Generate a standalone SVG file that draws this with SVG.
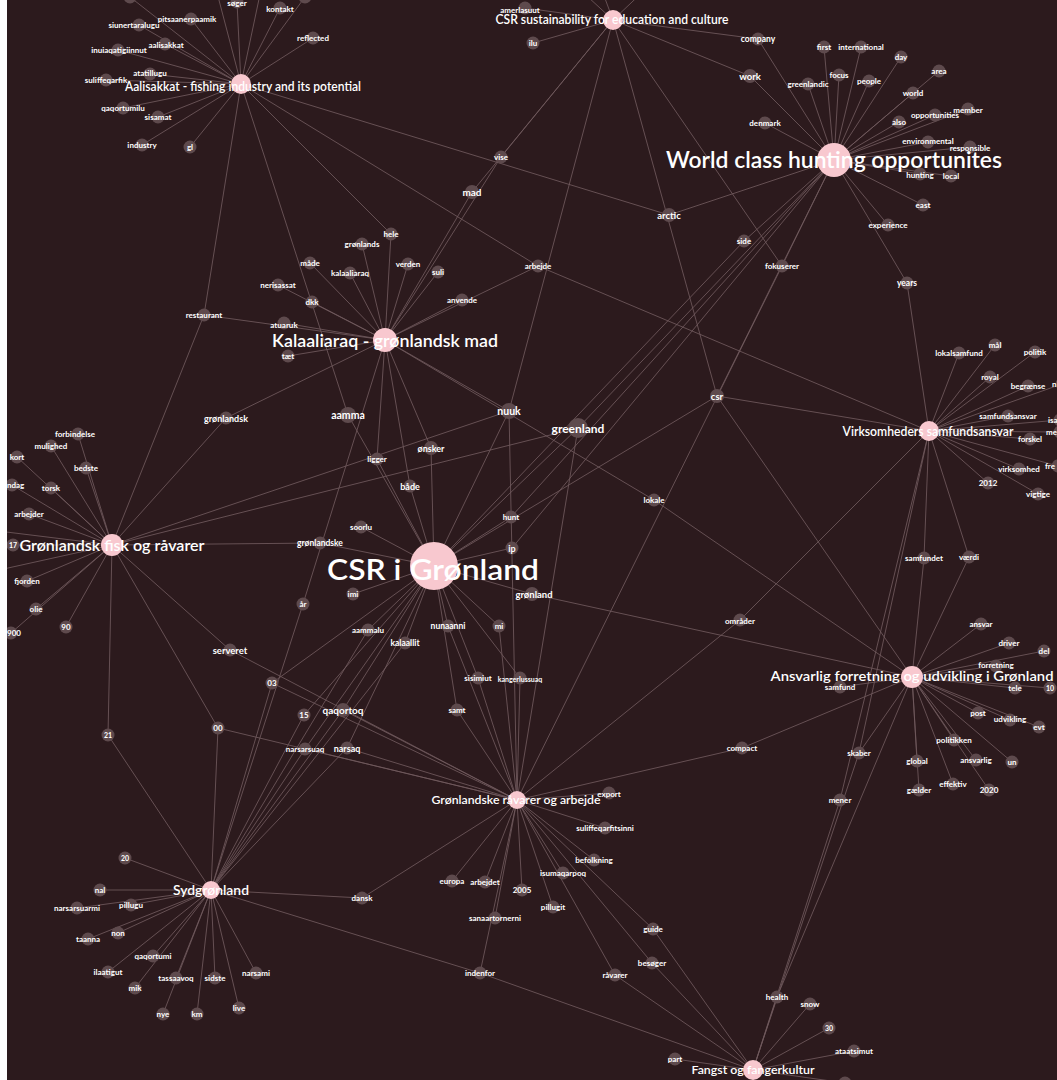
<svg xmlns="http://www.w3.org/2000/svg" width="1057" height="1080" viewBox="0 0 1057 1080">
<style>
.e line{stroke:#705a5d;stroke-width:0.85}
.n{fill:#5e4a4d}
.h{fill:#f8c8cf}
text{fill:#ffffff;font-family:Lato,"Open Sans","Liberation Sans",sans-serif;text-anchor:middle}
.w text{font-weight:700;dominant-baseline:central;font-size:8px}
.hl{font-weight:600}
.s{text-anchor:start}
</style>
<defs><clipPath id="cp"><rect x="7" y="0" width="1050" height="1080"/></clipPath></defs>
<rect x="0" y="0" width="1057" height="1080" fill="#ffffff"/>
<rect x="7" y="0" width="1050" height="1080" fill="#2c1a1d"/>
<g clip-path="url(#cp)">
<g id="connectors" class="e">
<!-- A -->
<line x1="241" y1="84" x2="237" y2="2"/><line x1="241" y1="84" x2="191" y2="19"/><line x1="241" y1="84" x2="139" y2="25"/><line x1="241" y1="84" x2="165" y2="44"/><line x1="241" y1="84" x2="118" y2="50"/><line x1="241" y1="84" x2="150" y2="74"/><line x1="241" y1="84" x2="106" y2="80"/><line x1="241" y1="84" x2="123" y2="108"/><line x1="241" y1="84" x2="158" y2="117"/><line x1="241" y1="84" x2="142" y2="145"/><line x1="241" y1="84" x2="190" y2="147"/><line x1="241" y1="84" x2="280" y2="8"/><line x1="241" y1="84" x2="313" y2="38"/><line x1="241" y1="84" x2="130" y2="-3"/><line x1="241" y1="84" x2="305" y2="-3"/><line x1="241" y1="84" x2="215" y2="-15"/><line x1="241" y1="84" x2="262" y2="-15"/><line x1="241" y1="84" x2="204" y2="315"/><line x1="241" y1="84" x2="669" y2="215"/><line x1="241" y1="84" x2="538" y2="266"/><line x1="241" y1="84" x2="391" y2="234"/><line x1="241" y1="84" x2="348" y2="415"/>
<!-- S -->
<line x1="613" y1="20" x2="525" y2="8"/><line x1="613" y1="20" x2="533" y2="43"/><line x1="613" y1="20" x2="758" y2="39"/><line x1="613" y1="20" x2="750" y2="76"/><line x1="613" y1="20" x2="501" y2="157"/><line x1="613" y1="20" x2="472" y2="192"/><line x1="613" y1="20" x2="717" y2="396"/><line x1="613" y1="20" x2="509" y2="411"/><line x1="613" y1="20" x2="782" y2="266"/><line x1="613" y1="20" x2="575" y2="-15"/><line x1="613" y1="20" x2="600" y2="-15"/><line x1="613" y1="20" x2="650" y2="-15"/>
<!-- W -->
<line x1="834" y1="160" x2="824" y2="47"/><line x1="834" y1="160" x2="861" y2="47"/><line x1="834" y1="160" x2="901" y2="57"/><line x1="834" y1="160" x2="839" y2="75"/><line x1="834" y1="160" x2="869" y2="81"/><line x1="834" y1="160" x2="808" y2="84"/><line x1="834" y1="160" x2="939" y2="71"/><line x1="834" y1="160" x2="913" y2="93"/><line x1="834" y1="160" x2="968" y2="109"/><line x1="834" y1="160" x2="935" y2="115"/><line x1="834" y1="160" x2="899" y2="122"/><line x1="834" y1="160" x2="928" y2="142"/><line x1="834" y1="160" x2="970" y2="147"/><line x1="834" y1="160" x2="920" y2="174"/><line x1="834" y1="160" x2="951" y2="176"/><line x1="834" y1="160" x2="923" y2="205"/><line x1="834" y1="160" x2="888" y2="225"/><line x1="834" y1="160" x2="758" y2="39"/><line x1="834" y1="160" x2="750" y2="76"/><line x1="834" y1="160" x2="765" y2="123"/><line x1="834" y1="160" x2="907" y2="283"/><line x1="834" y1="160" x2="669" y2="215"/><line x1="834" y1="160" x2="744" y2="241"/><line x1="834" y1="160" x2="782" y2="266"/><line x1="834" y1="160" x2="578" y2="428"/><line x1="834" y1="160" x2="717" y2="396"/><line x1="834" y1="160" x2="511" y2="517"/><line x1="834" y1="160" x2="512" y2="548"/>
<!-- K -->
<line x1="385" y1="340" x2="391" y2="234"/><line x1="385" y1="340" x2="362" y2="244"/><line x1="385" y1="340" x2="310" y2="263"/><line x1="385" y1="340" x2="350" y2="273"/><line x1="385" y1="340" x2="408" y2="264"/><line x1="385" y1="340" x2="438" y2="272"/><line x1="385" y1="340" x2="278" y2="285"/><line x1="385" y1="340" x2="312" y2="302"/><line x1="385" y1="340" x2="462" y2="300"/><line x1="385" y1="340" x2="284" y2="323"/><line x1="385" y1="340" x2="288" y2="356"/><line x1="385" y1="340" x2="472" y2="192"/><line x1="385" y1="340" x2="501" y2="157"/><line x1="385" y1="340" x2="204" y2="315"/><line x1="385" y1="340" x2="226" y2="418"/><line x1="385" y1="340" x2="377" y2="459"/><line x1="385" y1="340" x2="431" y2="448"/><line x1="385" y1="340" x2="410" y2="486"/><line x1="385" y1="340" x2="303" y2="604"/><line x1="385" y1="340" x2="509" y2="411"/><line x1="385" y1="340" x2="538" y2="266"/><line x1="385" y1="340" x2="654" y2="500"/>
<!-- V -->
<line x1="929" y1="431" x2="959" y2="353"/><line x1="929" y1="431" x2="995" y2="345"/><line x1="929" y1="431" x2="1035" y2="352"/><line x1="929" y1="431" x2="990" y2="377"/><line x1="929" y1="431" x2="1028" y2="386"/><line x1="929" y1="431" x2="1062" y2="384"/><line x1="929" y1="431" x2="1008" y2="416"/><line x1="929" y1="431" x2="1060" y2="420"/><line x1="929" y1="431" x2="1060" y2="432"/><line x1="929" y1="431" x2="1030" y2="439"/><line x1="929" y1="431" x2="1019" y2="469"/><line x1="929" y1="431" x2="1058" y2="466"/><line x1="929" y1="431" x2="988" y2="483"/><line x1="929" y1="431" x2="1038" y2="494"/><line x1="929" y1="431" x2="924" y2="558"/><line x1="929" y1="431" x2="969" y2="557"/><line x1="929" y1="431" x2="717" y2="396"/><line x1="929" y1="431" x2="538" y2="266"/><line x1="929" y1="431" x2="907" y2="283"/><line x1="929" y1="431" x2="740" y2="620"/><line x1="929" y1="431" x2="859" y2="753"/><line x1="929" y1="431" x2="840" y2="800"/>
<!-- F -->
<line x1="112" y1="545" x2="78" y2="434"/><line x1="112" y1="545" x2="51" y2="446"/><line x1="112" y1="545" x2="17" y2="457"/><line x1="112" y1="545" x2="86" y2="468"/><line x1="112" y1="545" x2="12" y2="485"/><line x1="112" y1="545" x2="51" y2="488"/><line x1="112" y1="545" x2="29" y2="514"/><line x1="112" y1="545" x2="13" y2="545"/><line x1="112" y1="545" x2="27" y2="581"/><line x1="112" y1="545" x2="36" y2="609"/><line x1="112" y1="545" x2="11" y2="633"/><line x1="112" y1="545" x2="66" y2="627"/><line x1="112" y1="545" x2="-10" y2="530"/><line x1="112" y1="545" x2="-10" y2="572"/><line x1="112" y1="545" x2="204" y2="315"/><line x1="112" y1="545" x2="226" y2="418"/><line x1="112" y1="545" x2="509" y2="411"/><line x1="112" y1="545" x2="578" y2="428"/><line x1="112" y1="545" x2="320" y2="543"/><line x1="112" y1="545" x2="230" y2="650"/><line x1="112" y1="545" x2="108" y2="735"/><line x1="112" y1="545" x2="218" y2="728"/>
<!-- C -->
<line x1="434" y1="566" x2="348" y2="415"/><line x1="434" y1="566" x2="509" y2="411"/><line x1="434" y1="566" x2="431" y2="448"/><line x1="434" y1="566" x2="377" y2="459"/><line x1="434" y1="566" x2="410" y2="486"/><line x1="434" y1="566" x2="511" y2="517"/><line x1="434" y1="566" x2="361" y2="527"/><line x1="434" y1="566" x2="320" y2="543"/><line x1="434" y1="566" x2="512" y2="548"/><line x1="434" y1="566" x2="353" y2="594"/><line x1="434" y1="566" x2="532" y2="594"/><line x1="434" y1="566" x2="448" y2="626"/><line x1="434" y1="566" x2="499" y2="626"/><line x1="434" y1="566" x2="368" y2="630"/><line x1="434" y1="566" x2="405" y2="643"/><line x1="434" y1="566" x2="272" y2="683"/><line x1="434" y1="566" x2="478" y2="678"/><line x1="434" y1="566" x2="520" y2="678"/><line x1="434" y1="566" x2="304" y2="715"/><line x1="434" y1="566" x2="343" y2="710"/><line x1="434" y1="566" x2="457" y2="710"/><line x1="434" y1="566" x2="717" y2="396"/><line x1="434" y1="566" x2="578" y2="428"/><line x1="434" y1="566" x2="744" y2="241"/><line x1="434" y1="566" x2="305" y2="749"/><line x1="434" y1="566" x2="347" y2="748"/>
<!-- R -->
<line x1="912" y1="677" x2="981" y2="624"/><line x1="912" y1="677" x2="1009" y2="643"/><line x1="912" y1="677" x2="1044" y2="651"/><line x1="912" y1="677" x2="996" y2="666"/><line x1="912" y1="677" x2="840" y2="687"/><line x1="912" y1="677" x2="1015" y2="688"/><line x1="912" y1="677" x2="1050" y2="688"/><line x1="912" y1="677" x2="978" y2="713"/><line x1="912" y1="677" x2="1010" y2="720"/><line x1="912" y1="677" x2="1039" y2="727"/><line x1="912" y1="677" x2="954" y2="740"/><line x1="912" y1="677" x2="917" y2="761"/><line x1="912" y1="677" x2="976" y2="760"/><line x1="912" y1="677" x2="1012" y2="762"/><line x1="912" y1="677" x2="953" y2="784"/><line x1="912" y1="677" x2="989" y2="790"/><line x1="912" y1="677" x2="919" y2="790"/><line x1="912" y1="677" x2="924" y2="558"/><line x1="912" y1="677" x2="969" y2="557"/><line x1="912" y1="677" x2="717" y2="396"/><line x1="912" y1="677" x2="532" y2="594"/><line x1="912" y1="677" x2="654" y2="500"/><line x1="912" y1="677" x2="742" y2="748"/><line x1="912" y1="677" x2="859" y2="753"/><line x1="912" y1="677" x2="777" y2="997"/>
<!-- G -->
<line x1="517" y1="800" x2="609" y2="793"/><line x1="517" y1="800" x2="605" y2="828"/><line x1="517" y1="800" x2="594" y2="860"/><line x1="517" y1="800" x2="563" y2="873"/><line x1="517" y1="800" x2="553" y2="907"/><line x1="517" y1="800" x2="452" y2="881"/><line x1="517" y1="800" x2="485" y2="882"/><line x1="517" y1="800" x2="522" y2="890"/><line x1="517" y1="800" x2="495" y2="918"/><line x1="517" y1="800" x2="480" y2="973"/><line x1="517" y1="800" x2="653" y2="929"/><line x1="517" y1="800" x2="652" y2="963"/><line x1="517" y1="800" x2="615" y2="975"/><line x1="517" y1="800" x2="742" y2="748"/><line x1="517" y1="800" x2="362" y2="898"/><line x1="517" y1="800" x2="218" y2="728"/><line x1="517" y1="800" x2="230" y2="650"/><line x1="517" y1="800" x2="578" y2="428"/><line x1="517" y1="800" x2="509" y2="411"/><line x1="517" y1="800" x2="782" y2="266"/><line x1="517" y1="800" x2="740" y2="620"/><line x1="517" y1="800" x2="448" y2="626"/><line x1="517" y1="800" x2="499" y2="626"/><line x1="517" y1="800" x2="457" y2="710"/><line x1="517" y1="800" x2="478" y2="678"/><line x1="517" y1="800" x2="520" y2="678"/><line x1="517" y1="800" x2="343" y2="710"/><line x1="517" y1="800" x2="305" y2="749"/><line x1="517" y1="800" x2="347" y2="748"/><line x1="517" y1="800" x2="272" y2="683"/>
<!-- Y -->
<line x1="211" y1="890" x2="125" y2="858"/><line x1="211" y1="890" x2="100" y2="890"/><line x1="211" y1="890" x2="77" y2="908"/><line x1="211" y1="890" x2="131" y2="905"/><line x1="211" y1="890" x2="88" y2="939"/><line x1="211" y1="890" x2="118" y2="933"/><line x1="211" y1="890" x2="153" y2="956"/><line x1="211" y1="890" x2="108" y2="972"/><line x1="211" y1="890" x2="176" y2="978"/><line x1="211" y1="890" x2="215" y2="978"/><line x1="211" y1="890" x2="256" y2="973"/><line x1="211" y1="890" x2="135" y2="988"/><line x1="211" y1="890" x2="163" y2="1014"/><line x1="211" y1="890" x2="197" y2="1014"/><line x1="211" y1="890" x2="239" y2="1008"/><line x1="211" y1="890" x2="108" y2="735"/><line x1="211" y1="890" x2="218" y2="728"/><line x1="211" y1="890" x2="362" y2="898"/><line x1="211" y1="890" x2="480" y2="973"/><line x1="211" y1="890" x2="303" y2="604"/><line x1="211" y1="890" x2="272" y2="683"/><line x1="211" y1="890" x2="304" y2="715"/><line x1="211" y1="890" x2="343" y2="710"/><line x1="211" y1="890" x2="305" y2="749"/><line x1="211" y1="890" x2="347" y2="748"/><line x1="211" y1="890" x2="405" y2="643"/><line x1="211" y1="890" x2="368" y2="630"/>
<!-- H -->
<line x1="753" y1="1070" x2="675" y2="1059"/><line x1="753" y1="1070" x2="810" y2="1004"/><line x1="753" y1="1070" x2="829" y2="1028"/><line x1="753" y1="1070" x2="854" y2="1051"/><line x1="753" y1="1070" x2="845" y2="1083"/><line x1="753" y1="1070" x2="777" y2="997"/><line x1="753" y1="1070" x2="653" y2="929"/><line x1="753" y1="1070" x2="652" y2="963"/><line x1="753" y1="1070" x2="615" y2="975"/><line x1="753" y1="1070" x2="480" y2="973"/><line x1="753" y1="1070" x2="859" y2="753"/><line x1="753" y1="1070" x2="840" y2="800"/>
</g>
<g class="w">
<g id="n-soger"><circle class="n" cx="237" cy="2" r="6.5"/><text x="237" y="3">søger</text></g>
<g id="n-pitsaanerpaamik"><circle class="n" cx="191" cy="19" r="6.5"/><text x="187" y="19">pitsaanerpaamik</text></g>
<g id="n-siunertaralugu"><circle class="n" cx="139" cy="25" r="6.5"/><text x="134" y="25">siunertaralugu</text></g>
<g id="n-aalisakkat"><circle class="n" cx="165" cy="44" r="6.5"/><text x="166" y="45">aalisakkat</text></g>
<g id="n-inuiaqatigiinnut"><circle class="n" cx="118" cy="50" r="6.5"/><text x="119" y="50">inuiaqatigiinnut</text></g>
<g id="n-atatillugu"><circle class="n" cx="150" cy="74" r="6.5"/><text x="150" y="73">atatillugu</text></g>
<g id="n-suliffeqarfik"><circle class="n" cx="106" cy="80" r="6.5"/><text x="106" y="80">suliffeqarfik</text></g>
<g id="n-qaqortumilu"><circle class="n" cx="123" cy="108" r="6.5"/><text x="123" y="108">qaqortumilu</text></g>
<g id="n-sisamat"><circle class="n" cx="158" cy="117" r="6.5"/><text x="158" y="117">sisamat</text></g>
<g id="n-industry"><circle class="n" cx="142" cy="145" r="6.5"/><text x="142" y="145">industry</text></g>
<g id="n-gl"><circle class="n" cx="190" cy="147" r="6.5"/><text x="190" y="147">gl</text></g>
<g id="n-kontakt"><circle class="n" cx="280" cy="8" r="6.5"/><text x="280" y="9">kontakt</text></g>
<g id="n-reflected"><circle class="n" cx="313" cy="38" r="6.5"/><text x="313" y="38">reflected</text></g>
<g id="n-topa1"><circle class="n" cx="130" cy="-3" r="6.5"/></g>
<g id="n-topa2"><circle class="n" cx="305" cy="-3" r="6.5"/></g>
<g id="n-restaurant"><circle class="n" cx="204" cy="315" r="6.5"/><text x="204" y="315">restaurant</text></g>
<g id="n-amerlasuut"><circle class="n" cx="525" cy="8" r="6.5"/><text x="520" y="10">amerlasuut</text></g>
<g id="n-ilu"><circle class="n" cx="533" cy="43" r="6.5"/><text x="533" y="43">ilu</text></g>
<g id="n-company"><circle class="n" cx="758" cy="39" r="6.5"/><text x="758" y="39" style="font-size:8.5px">company</text></g>
<g id="n-work"><circle class="n" cx="750" cy="76" r="7"/><text x="750" y="76" style="font-size:9.5px">work</text></g>
<g id="n-denmark"><circle class="n" cx="765" cy="123" r="6.5"/><text x="765" y="123">denmark</text></g>
<g id="n-vise"><circle class="n" cx="501" cy="157" r="6.5"/><text x="501" y="157">vise</text></g>
<g id="n-mad"><circle class="n" cx="472" cy="192" r="7"/><text x="472" y="192" style="font-size:10px">mad</text></g>
<g id="n-arctic"><circle class="n" cx="669" cy="215" r="7"/><text x="669" y="215" style="font-size:9.5px">arctic</text></g>
<g id="n-side"><circle class="n" cx="744" cy="241" r="6.5"/><text x="744" y="241">side</text></g>
<g id="n-fokuserer"><circle class="n" cx="782" cy="266" r="6.5"/><text x="782" y="266">fokuserer</text></g>
<g id="n-arbejde"><circle class="n" cx="538" cy="266" r="6.5"/><text x="538" y="266">arbejde</text></g>
<g id="n-hele"><circle class="n" cx="391" cy="234" r="6.5"/><text x="391" y="234">hele</text></g>
<g id="n-gronlands"><circle class="n" cx="362" cy="244" r="6.5"/><text x="362" y="244">grønlands</text></g>
<g id="n-made"><circle class="n" cx="310" cy="263" r="6.5"/><text x="310" y="263">måde</text></g>
<g id="n-kalaaliaraq"><circle class="n" cx="350" cy="273" r="6.5"/><text x="350" y="273">kalaaliaraq</text></g>
<g id="n-verden"><circle class="n" cx="408" cy="264" r="6.5"/><text x="408" y="264">verden</text></g>
<g id="n-suli"><circle class="n" cx="438" cy="272" r="6.5"/><text x="438" y="272">suli</text></g>
<g id="n-nerisassat"><circle class="n" cx="278" cy="285" r="6.5"/><text x="278" y="285">nerisassat</text></g>
<g id="n-dkk"><circle class="n" cx="312" cy="302" r="6.5"/><text x="312" y="302">dkk</text></g>
<g id="n-anvende"><circle class="n" cx="462" cy="300" r="6.5"/><text x="462" y="300">anvende</text></g>
<g id="n-atuaruk"><circle class="n" cx="284" cy="323" r="6.5"/><text x="284" y="325">atuaruk</text></g>
<g id="n-taet"><circle class="n" cx="288" cy="356" r="6.5"/><text x="288" y="356">tæt</text></g>
<g id="n-first"><circle class="n" cx="824" cy="47" r="6.5"/><text x="824" y="47">first</text></g>
<g id="n-international"><circle class="n" cx="861" cy="47" r="6.5"/><text x="861" y="47">international</text></g>
<g id="n-day"><circle class="n" cx="901" cy="57" r="6.5"/><text x="901" y="57">day</text></g>
<g id="n-focus"><circle class="n" cx="839" cy="75" r="6.5"/><text x="839" y="75">focus</text></g>
<g id="n-people"><circle class="n" cx="869" cy="81" r="6.5"/><text x="869" y="81">people</text></g>
<g id="n-greenlandic"><circle class="n" cx="808" cy="84" r="6.5"/><text x="808" y="84">greenlandic</text></g>
<g id="n-area"><circle class="n" cx="939" cy="71" r="6.5"/><text x="939" y="71">area</text></g>
<g id="n-world"><circle class="n" cx="913" cy="93" r="6.5"/><text x="913" y="93">world</text></g>
<g id="n-member"><circle class="n" cx="968" cy="109" r="6.5"/><text x="968" y="110">member</text></g>
<g id="n-opportunities"><circle class="n" cx="935" cy="115" r="6.5"/><text x="935" y="115">opportunities</text></g>
<g id="n-also"><circle class="n" cx="899" cy="122" r="6.5"/><text x="899" y="122">also</text></g>
<g id="n-environmental"><circle class="n" cx="928" cy="142" r="6.5"/><text x="928" y="141">environmental</text></g>
<g id="n-responsible"><circle class="n" cx="970" cy="147" r="6.5"/><text x="970" y="148">responsible</text></g>
<g id="n-hunting"><circle class="n" cx="920" cy="174" r="6.5"/><text x="920" y="175">hunting</text></g>
<g id="n-local"><circle class="n" cx="951" cy="176" r="6.5"/><text x="951" y="176">local</text></g>
<g id="n-east"><circle class="n" cx="923" cy="205" r="6.5"/><text x="923" y="205">east</text></g>
<g id="n-experience"><circle class="n" cx="888" cy="225" r="6.5"/><text x="888" y="225">experience</text></g>
<g id="n-years"><circle class="n" cx="907" cy="283" r="6.5"/><text x="907" y="283" style="font-size:8.5px">years</text></g>
<g id="n-lokalsamfund"><circle class="n" cx="959" cy="353" r="6.5"/><text x="959" y="353">lokalsamfund</text></g>
<g id="n-mal"><circle class="n" cx="995" cy="345" r="6.5"/><text x="995" y="345">mål</text></g>
<g id="n-politik"><circle class="n" cx="1035" cy="352" r="6.5"/><text x="1035" y="352">politik</text></g>
<g id="n-gronlandsk"><circle class="n" cx="226" cy="418" r="6.5"/><text x="226" y="418" style="font-size:9px">grønlandsk</text></g>
<g id="n-forbindelse"><circle class="n" cx="78" cy="434" r="6.5"/><text x="75" y="434">forbindelse</text></g>
<g id="n-mulighed"><circle class="n" cx="51" cy="446" r="6.5"/><text x="51" y="446">mulighed</text></g>
<g id="n-kort"><circle class="n" cx="17" cy="457" r="6.5"/><text x="17" y="457">kort</text></g>
<g id="n-bedste"><circle class="n" cx="86" cy="468" r="6.5"/><text x="86" y="468">bedste</text></g>
<g id="n-ndag"><circle class="n" cx="12" cy="485" r="6.5"/><text class="s" x="7" y="485">ndag</text></g>
<g id="n-torsk"><circle class="n" cx="51" cy="488" r="6.5"/><text x="51" y="488">torsk</text></g>
<g id="n-arbejder"><circle class="n" cx="29" cy="514" r="6.5"/><text x="29" y="514">arbejder</text></g>
<g id="n-17"><circle class="n" cx="13" cy="545" r="6.5"/><text x="13" y="545" style="font-size:7px">17</text></g>
<g id="n-fjorden"><circle class="n" cx="27" cy="581" r="6.5"/><text x="27" y="581">fjorden</text></g>
<g id="n-olie"><circle class="n" cx="36" cy="609" r="6.5"/><text x="36" y="609">olie</text></g>
<g id="n-900"><circle class="n" cx="11" cy="633" r="6.5"/><text class="s" x="7" y="633">900</text></g>
<g id="n-90"><circle class="n" cx="66" cy="627" r="6.5"/><text x="66" y="627">90</text></g>
<g id="n-serveret"><circle class="n" cx="230" cy="650" r="6.5"/><text x="230" y="650" style="font-size:9.5px">serveret</text></g>
<g id="n-aamma"><circle class="n" cx="348" cy="415" r="8"/><text x="348" y="415" style="font-size:10.5px">aamma</text></g>
<g id="n-nuuk"><circle class="n" cx="509" cy="411" r="8"/><text x="509" y="411" style="font-size:10.5px">nuuk</text></g>
<g id="n-onsker"><circle class="n" cx="431" cy="448" r="7"/><text x="431" y="448" style="font-size:9px">ønsker</text></g>
<g id="n-ligger"><circle class="n" cx="377" cy="459" r="6.5"/><text x="377" y="459">ligger</text></g>
<g id="n-bade"><circle class="n" cx="410" cy="486" r="6.5"/><text x="410" y="486" style="font-size:9px">både</text></g>
<g id="n-hunt"><circle class="n" cx="511" cy="517" r="6.5"/><text x="511" y="517">hunt</text></g>
<g id="n-soorlu"><circle class="n" cx="361" cy="527" r="6.5"/><text x="361" y="527">soorlu</text></g>
<g id="n-gronlandske"><circle class="n" cx="320" cy="543" r="6.5"/><text x="320" y="543" style="font-size:8.5px">grønlandske</text></g>
<g id="n-ip"><circle class="n" cx="512" cy="548" r="6.5"/><text x="512" y="548" style="font-size:9px">ip</text></g>
<g id="n-imi"><circle class="n" cx="353" cy="594" r="6.5"/><text x="353" y="594">imi</text></g>
<g id="n-ar"><circle class="n" cx="303" cy="604" r="6.5"/><text x="303" y="604">år</text></g>
<g id="n-gronland"><circle class="n" cx="532" cy="594" r="7"/><text x="534" y="594" style="font-size:9.5px">grønland</text></g>
<g id="n-nunaanni"><circle class="n" cx="448" cy="626" r="6.5"/><text x="448" y="626" style="font-size:8.5px">nunaanni</text></g>
<g id="n-mi"><circle class="n" cx="499" cy="626" r="6.5"/><text x="499" y="626">mi</text></g>
<g id="n-aammalu"><circle class="n" cx="368" cy="630" r="6.5"/><text x="368" y="630">aammalu</text></g>
<g id="n-kalaallit"><circle class="n" cx="405" cy="643" r="6.5"/><text x="405" y="643" style="font-size:8.5px">kalaallit</text></g>
<g id="n-03"><circle class="n" cx="272" cy="683" r="6.5"/><text x="272" y="683">03</text></g>
<g id="n-sisimiut"><circle class="n" cx="478" cy="678" r="6.5"/><text x="478" y="678">sisimiut</text></g>
<g id="n-kangerlussuaq"><circle class="n" cx="520" cy="678" r="6.5"/><text x="520" y="679" style="font-size:7px">kangerlussuaq</text></g>
<g id="n-15"><circle class="n" cx="304" cy="715" r="6.5"/><text x="304" y="715">15</text></g>
<g id="n-qaqortoq"><circle class="n" cx="343" cy="710" r="7"/><text x="343" y="710" style="font-size:10px">qaqortoq</text></g>
<g id="n-samt"><circle class="n" cx="457" cy="710" r="6.5"/><text x="457" y="710">samt</text></g>
<g id="n-csr"><circle class="n" cx="717" cy="396" r="7"/><text x="717" y="396" style="font-size:9.5px">csr</text></g>
<g id="n-greenland"><circle class="n" cx="578" cy="428" r="10"/><text x="578" y="428" style="font-size:12px">greenland</text></g>
<g id="n-lokale"><circle class="n" cx="654" cy="500" r="6.5"/><text x="654" y="500">lokale</text></g>
<g id="n-omrader"><circle class="n" cx="740" cy="620" r="6.5"/><text x="740" y="621">områder</text></g>
<g id="n-royal"><circle class="n" cx="990" cy="377" r="6.5"/><text x="990" y="377">royal</text></g>
<g id="n-begraense"><circle class="n" cx="1028" cy="386" r="6.5"/><text x="1028" y="386">begrænse</text></g>
<g id="n-n"><circle class="n" cx="1062" cy="384" r="6.5"/><text class="s" x="1052" y="384">n</text></g>
<g id="n-samfundsansvar"><circle class="n" cx="1008" cy="416" r="6.5"/><text x="1008" y="416">samfundsansvar</text></g>
<g id="n-isa"><circle class="n" cx="1060" cy="420" r="6.5"/><text class="s" x="1048" y="420">isa</text></g>
<g id="n-mer"><circle class="n" cx="1060" cy="432" r="6.5"/><text class="s" x="1046" y="432">mer</text></g>
<g id="n-forskel"><circle class="n" cx="1030" cy="439" r="6.5"/><text x="1030" y="439">forskel</text></g>
<g id="n-virksomhed"><circle class="n" cx="1019" cy="469" r="6.5"/><text x="1019" y="469">virksomhed</text></g>
<g id="n-fre"><circle class="n" cx="1058" cy="466" r="6.5"/><text class="s" x="1045" y="466">fre</text></g>
<g id="n-2012"><circle class="n" cx="988" cy="483" r="6.5"/><text x="988" y="483">2012</text></g>
<g id="n-vigtige"><circle class="n" cx="1038" cy="494" r="6.5"/><text x="1038" y="494">vigtige</text></g>
<g id="n-samfundet"><circle class="n" cx="924" cy="558" r="6.5"/><text x="924" y="558">samfundet</text></g>
<g id="n-vaerdi"><circle class="n" cx="969" cy="557" r="6.5"/><text x="969" y="557">værdi</text></g>
<g id="n-ansvar"><circle class="n" cx="981" cy="624" r="6.5"/><text x="981" y="624">ansvar</text></g>
<g id="n-driver"><circle class="n" cx="1009" cy="643" r="6.5"/><text x="1009" y="643">driver</text></g>
<g id="n-del"><circle class="n" cx="1044" cy="651" r="6.5"/><text x="1044" y="651">del</text></g>
<g id="n-forretning"><circle class="n" cx="996" cy="666" r="6.5"/><text x="996" y="665">forretning</text></g>
<g id="n-samfund"><circle class="n" cx="840" cy="687" r="6.5"/><text x="840" y="687">samfund</text></g>
<g id="n-tele"><circle class="n" cx="1015" cy="688" r="6.5"/><text x="1015" y="688">tele</text></g>
<g id="n-10"><circle class="n" cx="1050" cy="688" r="6.5"/><text x="1050" y="688" style="font-size:7px">10</text></g>
<g id="n-post"><circle class="n" cx="978" cy="713" r="6.5"/><text x="978" y="713">post</text></g>
<g id="n-udvikling"><circle class="n" cx="1010" cy="720" r="6.5"/><text x="1010" y="719">udvikling</text></g>
<g id="n-evt"><circle class="n" cx="1039" cy="727" r="6.5"/><text x="1039" y="727">evt</text></g>
<g id="n-politikken"><circle class="n" cx="954" cy="740" r="6.5"/><text x="954" y="740">politikken</text></g>
<g id="n-skaber"><circle class="n" cx="859" cy="753" r="6.5"/><text x="859" y="753">skaber</text></g>
<g id="n-global"><circle class="n" cx="917" cy="761" r="6.5"/><text x="917" y="761">global</text></g>
<g id="n-ansvarlig"><circle class="n" cx="976" cy="760" r="6.5"/><text x="976" y="760">ansvarlig</text></g>
<g id="n-un"><circle class="n" cx="1012" cy="762" r="6.5"/><text x="1012" y="762">un</text></g>
<g id="n-gaelder"><circle class="n" cx="919" cy="790" r="6.5"/><text x="919" y="790">gælder</text></g>
<g id="n-effektiv"><circle class="n" cx="953" cy="784" r="6.5"/><text x="953" y="784">effektiv</text></g>
<g id="n-2020"><circle class="n" cx="989" cy="790" r="6.5"/><text x="989" y="790">2020</text></g>
<g id="n-mener"><circle class="n" cx="840" cy="800" r="6.5"/><text x="840" y="800">mener</text></g>
<g id="n-21"><circle class="n" cx="108" cy="735" r="6.5"/><text x="108" y="735" style="font-size:7px">21</text></g>
<g id="n-00"><circle class="n" cx="218" cy="728" r="6.5"/><text x="218" y="728">00</text></g>
<g id="n-20"><circle class="n" cx="125" cy="858" r="6.5"/><text x="125" y="858" style="font-size:7px">20</text></g>
<g id="n-nal"><circle class="n" cx="100" cy="890" r="6.5"/><text x="100" y="890">nal</text></g>
<g id="n-narsarsuarmi"><circle class="n" cx="77" cy="908" r="6.5"/><text x="77" y="908">narsarsuarmi</text></g>
<g id="n-pillugu"><circle class="n" cx="131" cy="905" r="6.5"/><text x="131" y="905">pillugu</text></g>
<g id="n-taanna"><circle class="n" cx="88" cy="939" r="6.5"/><text x="88" y="939">taanna</text></g>
<g id="n-non"><circle class="n" cx="118" cy="933" r="6.5"/><text x="118" y="933">non</text></g>
<g id="n-qaqortumi"><circle class="n" cx="153" cy="956" r="6.5"/><text x="153" y="956">qaqortumi</text></g>
<g id="n-ilaatigut"><circle class="n" cx="108" cy="972" r="6.5"/><text x="108" y="972">ilaatigut</text></g>
<g id="n-tassaavoq"><circle class="n" cx="176" cy="978" r="6.5"/><text x="176" y="978">tassaavoq</text></g>
<g id="n-sidste"><circle class="n" cx="215" cy="978" r="6.5"/><text x="215" y="978">sidste</text></g>
<g id="n-narsami"><circle class="n" cx="256" cy="973" r="6.5"/><text x="256" y="973">narsami</text></g>
<g id="n-mik"><circle class="n" cx="135" cy="988" r="6.5"/><text x="135" y="988">mik</text></g>
<g id="n-nye"><circle class="n" cx="163" cy="1014" r="6.5"/><text x="163" y="1014">nye</text></g>
<g id="n-km"><circle class="n" cx="197" cy="1014" r="6.5"/><text x="197" y="1014">km</text></g>
<g id="n-live"><circle class="n" cx="239" cy="1008" r="6.5"/><text x="239" y="1008">live</text></g>
<g id="n-narsarsuaq"><circle class="n" cx="305" cy="749" r="6.5"/><text x="305" y="749">narsarsuaq</text></g>
<g id="n-narsaq"><circle class="n" cx="347" cy="748" r="6.5"/><text x="347" y="748" style="font-size:9px">narsaq</text></g>
<g id="n-europa"><circle class="n" cx="452" cy="881" r="6.5"/><text x="452" y="881">europa</text></g>
<g id="n-arbejdet"><circle class="n" cx="485" cy="882" r="6.5"/><text x="485" y="882">arbejdet</text></g>
<g id="n-2005"><circle class="n" cx="522" cy="890" r="6.5"/><text x="522" y="890">2005</text></g>
<g id="n-dansk"><circle class="n" cx="362" cy="898" r="6.5"/><text x="362" y="898">dansk</text></g>
<g id="n-sanaartornerni"><circle class="n" cx="495" cy="918" r="6.5"/><text x="495" y="918">sanaartornerni</text></g>
<g id="n-indenfor"><circle class="n" cx="480" cy="973" r="6.5"/><text x="480" y="973">indenfor</text></g>
<g id="n-compact"><circle class="n" cx="742" cy="748" r="6.5"/><text x="742" y="748">compact</text></g>
<g id="n-export"><circle class="n" cx="609" cy="793" r="6.5"/><text x="609" y="794">export</text></g>
<g id="n-suliffeqarfitsinni"><circle class="n" cx="605" cy="828" r="6.5"/><text x="605" y="828">suliffeqarfitsinni</text></g>
<g id="n-befolkning"><circle class="n" cx="594" cy="860" r="6.5"/><text x="594" y="860">befolkning</text></g>
<g id="n-isumaqarpoq"><circle class="n" cx="563" cy="873" r="6.5"/><text x="563" y="873">isumaqarpoq</text></g>
<g id="n-pillugit"><circle class="n" cx="553" cy="907" r="6.5"/><text x="553" y="907">pillugit</text></g>
<g id="n-guide"><circle class="n" cx="653" cy="929" r="6.5"/><text x="653" y="929">guide</text></g>
<g id="n-besoger"><circle class="n" cx="652" cy="963" r="6.5"/><text x="652" y="963">besøger</text></g>
<g id="n-ravarer"><circle class="n" cx="615" cy="975" r="6.5"/><text x="615" y="975">råvarer</text></g>
<g id="n-health"><circle class="n" cx="777" cy="997" r="6.5"/><text x="777" y="997">health</text></g>
<g id="n-part"><circle class="n" cx="675" cy="1059" r="6.5"/><text x="675" y="1059">part</text></g>
<g id="n-snow"><circle class="n" cx="810" cy="1004" r="6.5"/><text x="810" y="1004">snow</text></g>
<g id="n-30"><circle class="n" cx="829" cy="1028" r="6.5"/><text x="829" y="1028" style="font-size:7px">30</text></g>
<g id="n-ataatsimut"><circle class="n" cx="854" cy="1051" r="6.5"/><text x="854" y="1051">ataatsimut</text></g>
<g id="n-bottom"><circle class="n" cx="845" cy="1083" r="6.5"/></g>
</g>
<g id="hubs">
<g id="hub-aalisakkat"><circle class="h" cx="241" cy="84" r="10"/><text class="hl" x="243" y="91" font-size="13.5" textLength="236" lengthAdjust="spacingAndGlyphs">Aalisakkat - fishing industry and its potential</text></g>
<g id="hub-csr-sustainability"><circle class="h" cx="613" cy="20" r="10"/><text class="hl" x="612" y="24" font-size="12.5" textLength="233" lengthAdjust="spacingAndGlyphs">CSR sustainability for education and culture</text></g>
<g id="hub-world-class"><circle class="h" cx="834" cy="160" r="17"/><text class="hl" x="834" y="168" font-size="22" textLength="336" lengthAdjust="spacingAndGlyphs">World class hunting opportunites</text></g>
<g id="hub-kalaaliaraq"><circle class="h" cx="385" cy="340" r="12"/><text class="hl" x="385" y="347" font-size="17" textLength="226" lengthAdjust="spacingAndGlyphs">Kalaaliaraq - grønlandsk mad</text></g>
<g id="hub-virksomheders"><circle class="h" cx="929" cy="431" r="10"/><text class="hl" x="928" y="436" font-size="13" textLength="171" lengthAdjust="spacingAndGlyphs">Virksomheders samfundsansvar</text></g>
<g id="hub-fisk"><circle class="h" cx="112" cy="545" r="11"/><text class="hl" x="112" y="551" font-size="15.5" textLength="185" lengthAdjust="spacingAndGlyphs">Grønlandsk fisk og råvarer</text></g>
<g id="hub-csr-i-gronland"><circle class="h" cx="434" cy="566" r="24"/><text class="hl" x="433" y="580" font-size="28" textLength="212" lengthAdjust="spacingAndGlyphs">CSR i Grønland</text></g>
<g id="hub-ansvarlig"><circle class="h" cx="912" cy="677" r="11"/><text class="hl" x="912" y="681" font-size="14" textLength="283" lengthAdjust="spacingAndGlyphs">Ansvarlig forretning og udvikling i Grønland</text></g>
<g id="hub-ravarer-arbejde"><circle class="h" cx="517" cy="800" r="9"/><text class="hl" x="516" y="804" font-size="11.5" textLength="169" lengthAdjust="spacingAndGlyphs">Grønlandske råvarer og arbejde</text></g>
<g id="hub-sydgronland"><circle class="h" cx="211" cy="890" r="9"/><text class="hl" x="211" y="894.5" font-size="12.5" textLength="76" lengthAdjust="spacingAndGlyphs">Sydgrønland</text></g>
<g id="hub-fangst"><circle class="h" cx="753" cy="1070" r="10"/><text class="hl" x="753" y="1074" font-size="12" textLength="123" lengthAdjust="spacingAndGlyphs">Fangst og fangerkultur</text></g>
</g>
</g>
</svg>
